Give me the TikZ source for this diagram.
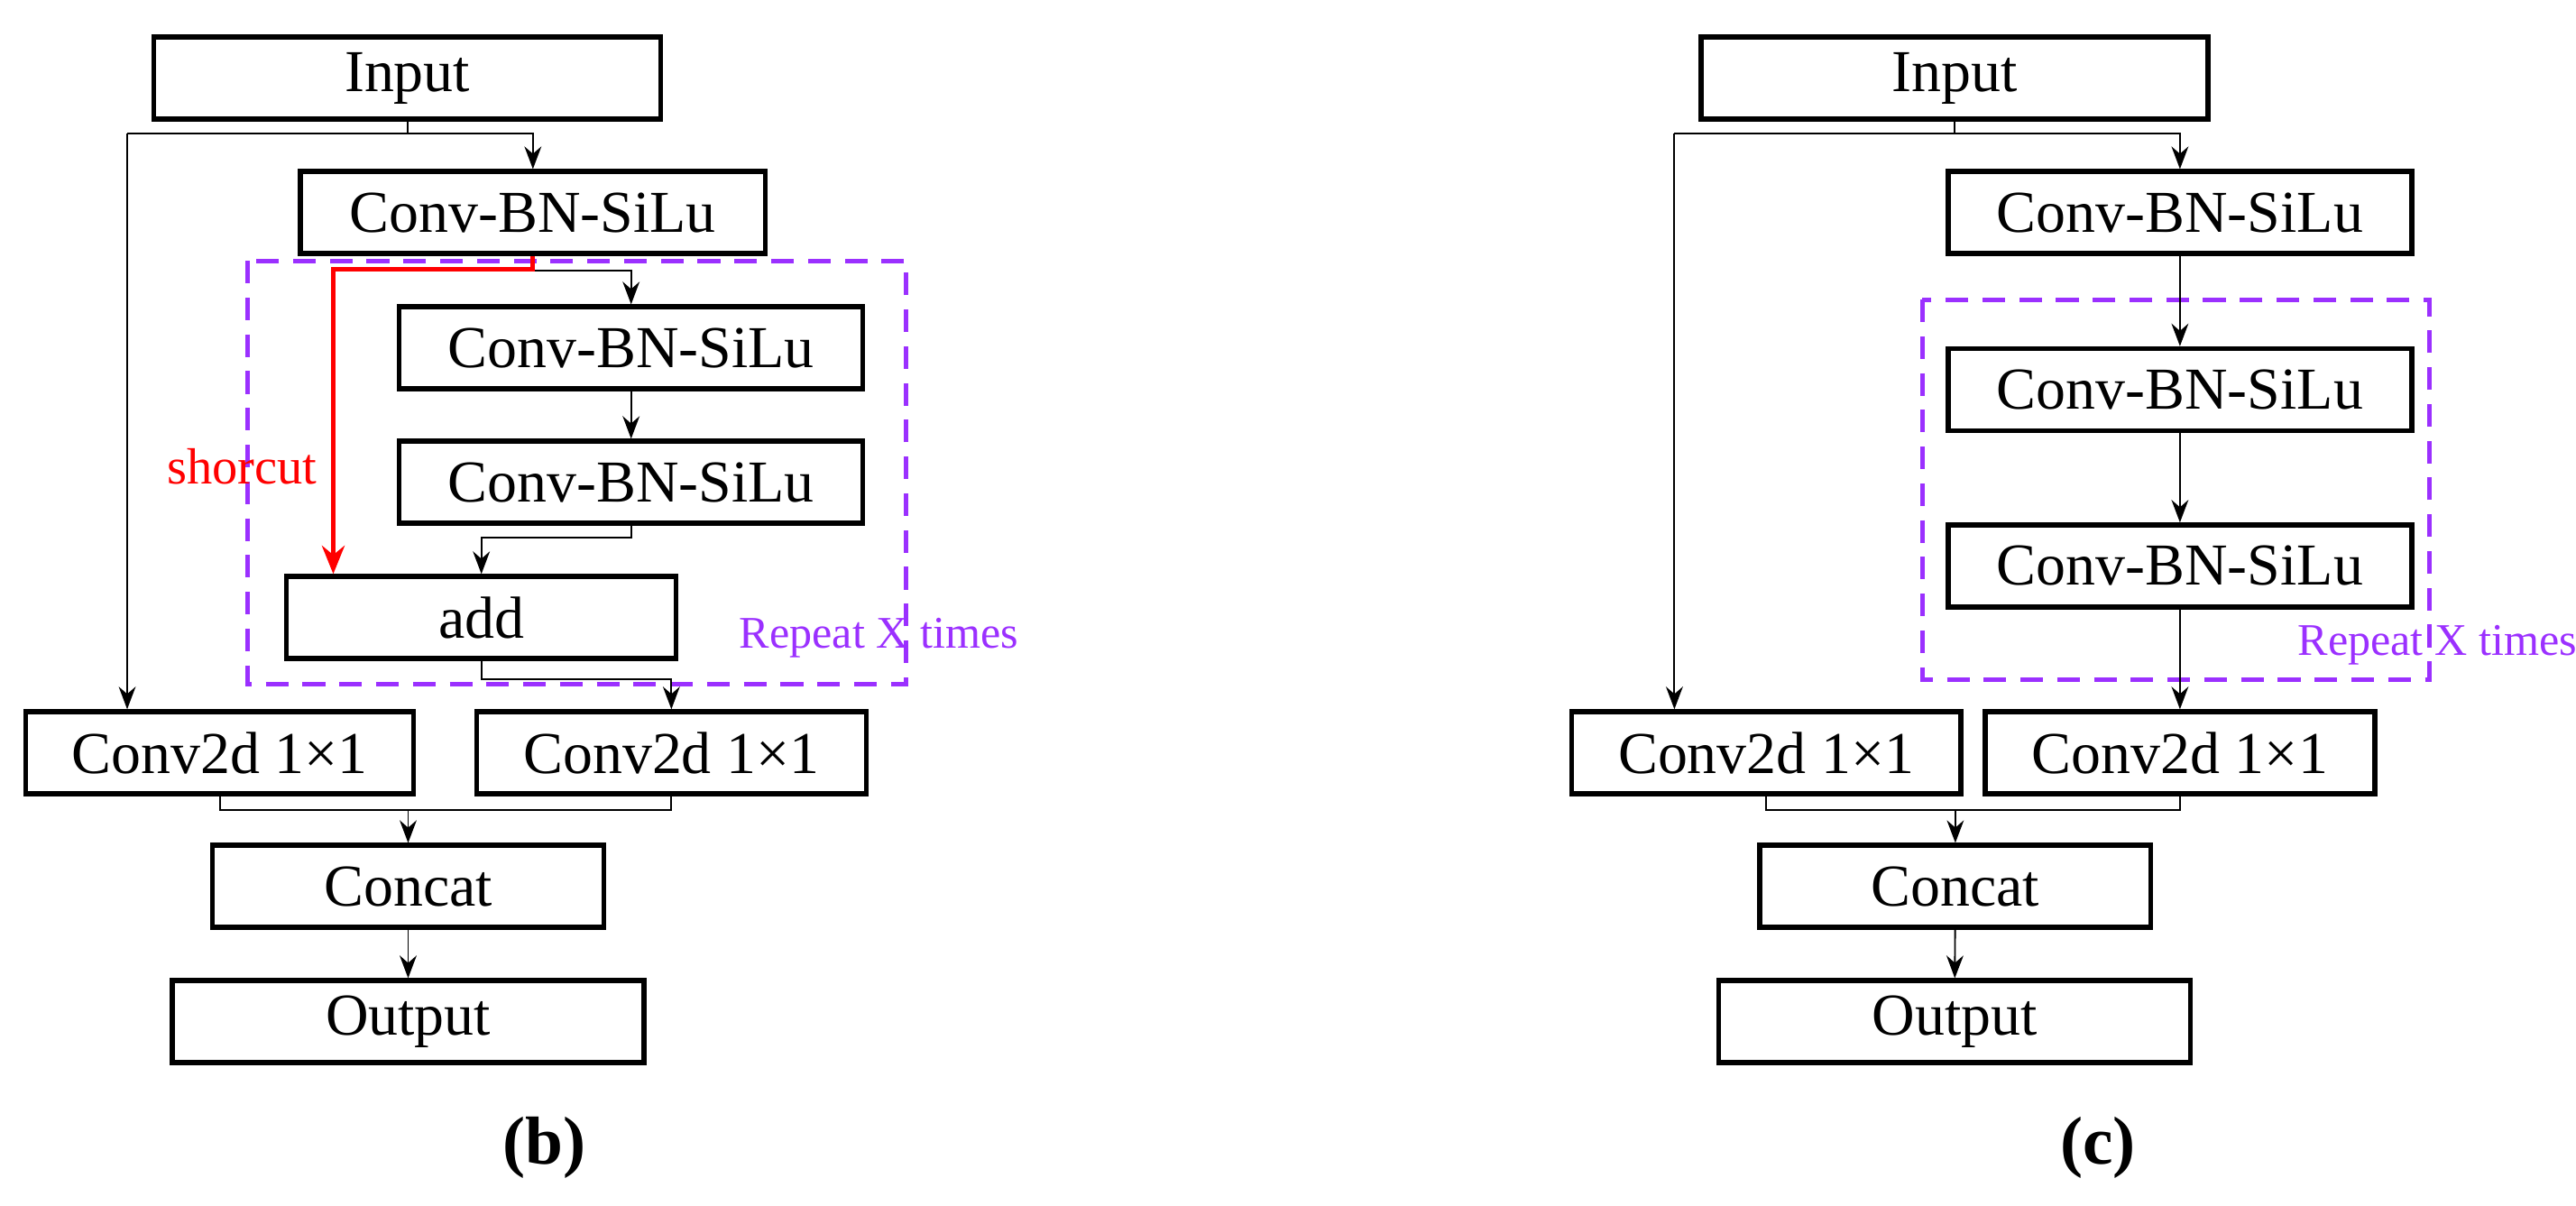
\documentclass[tikz,border=0pt]{standalone}
\usepackage{fontspec}
\setmainfont{Liberation Serif}
\usetikzlibrary{arrows.meta, positioning, calc}
\definecolor{RepeatColor}{RGB}{155,48,255}
\tikzset{
  blk/.style={draw, line width=1.7pt, minimum height=1.02cm, inner sep=0pt, font=\fontsize{21}{24}\selectfont},
  link/.style={line width=0.6pt, -{Stealth[length=8pt,width=6pt]}},
  plain/.style={line width=0.6pt},
  rep/.style={draw=RepeatColor, dashed, line width=1.6pt, dash pattern=on 8pt off 5pt},
}
\begin{document}
\begin{tikzpicture}[x=0.02cm, y=-0.02cm]
  \useasboundingbox (0,0) rectangle (1600,748.5);

  % (b)
  \draw[rep] (154,162) rectangle (563,425);
  \node[blk, minimum width=6.3cm] (inB) at (253,48.5) {Input};
  \node[blk, minimum width=5.78cm] (cb1) at (331,132) {Conv-BN-SiLu};
  \node[blk, minimum width=5.76cm] (cb2) at (392,216) {Conv-BN-SiLu};
  \node[blk, minimum width=5.76cm] (cb3) at (392,299.5) {Conv-BN-SiLu};
  \node[blk, minimum width=4.84cm] (addB) at (299,383.5) {add};
  \node[blk, minimum width=4.82cm] (c2lB) at (136.5,467.5) {Conv2d 1×1};
  \node[blk, minimum width=4.84cm] (c2rB) at (417,467.5) {Conv2d 1×1};
  \node[blk, minimum width=4.86cm] (catB) at (253.5,550.5) {Concat};
  \node[blk, minimum width=5.86cm] (outB) at (253.5,634.5) {Output};
  \node[font=\fontsize{24}{28}\selectfont\bfseries] (capB) at (338,713) {(b)};
  \node[text=red, font=\fontsize{18}{21}\selectfont, anchor=east] (scB) at (203,290) {shorcut};
  \node[text=RepeatColor, font=\fontsize{16}{19}\selectfont, anchor=west] (repB) at (453,396) {Repeat X times};

  \draw[plain] (inB.south) -- (253,83) -| (79,83);
  \draw[link] (79,83) -- (c2lB.north -| 79,0);
  \draw[link] (253,83) -| (cb1.north);
  \draw[link] (cb1.south) |- (331,168) -| (cb2.north);
  \draw[red, line width=1.6pt, -{Stealth[length=10pt,width=8pt]}] (cb1.south) |- (331,167) -| (addB.north -| 207,0);
  \draw[link] (cb2) -- (cb3);
  \draw[link] (cb3.south) |- (299,334) -- (addB.north);
  \draw[link] (addB.south) |- (417,422) -- (c2rB.north);
  \draw[plain] (c2lB.south) |- (417,503) -- (c2rB.south);
  \draw[link] (253.5,503) -- (catB.north);
  \draw[link] (catB) -- (outB);

  % (c)
  \draw[rep] (1194,186) rectangle (1509,422);
  \node[blk, minimum width=6.3cm] (inC) at (1214,48.5) {Input};
  \node[blk, minimum width=5.76cm] (cc1) at (1354,132) {Conv-BN-SiLu};
  \node[blk, minimum width=5.76cm] (cc2) at (1354,242) {Conv-BN-SiLu};
  \node[blk, minimum width=5.76cm] (cc3) at (1354,351.5) {Conv-BN-SiLu};
  \node[blk, minimum width=4.84cm] (c2lC) at (1097,467.5) {Conv2d 1×1};
  \node[blk, minimum width=4.84cm] (c2rC) at (1354,467.5) {Conv2d 1×1};
  \node[blk, minimum width=4.86cm] (catC) at (1214.5,550.5) {Concat};
  \node[blk, minimum width=5.86cm] (outC) at (1214,634.5) {Output};
  \node[font=\fontsize{24}{28}\selectfont\bfseries] (capC) at (1303,713) {(c)};
  \node[text=RepeatColor, font=\fontsize{16}{19}\selectfont, anchor=west] (repC) at (1421,400.5) {Repeat X times};

  \draw[plain] (inC.south) -- (1214,83) -| (1040,83);
  \draw[link] (1040,83) -- (c2lC.north -| 1040,0);
  \draw[link] (1214,83) -| (cc1.north);
  \draw[link] (cc1) -- (cc2);
  \draw[link] (cc2) -- (cc3);
  \draw[link] (cc3) -- (c2rC);
  \draw[plain] (c2lC.south) |- (1354,503) -- (c2rC.south);
  \draw[link] (1214.5,503) -- (catC.north);
  \draw[link] (catC) -- (outC);
\end{tikzpicture}
\end{document}
